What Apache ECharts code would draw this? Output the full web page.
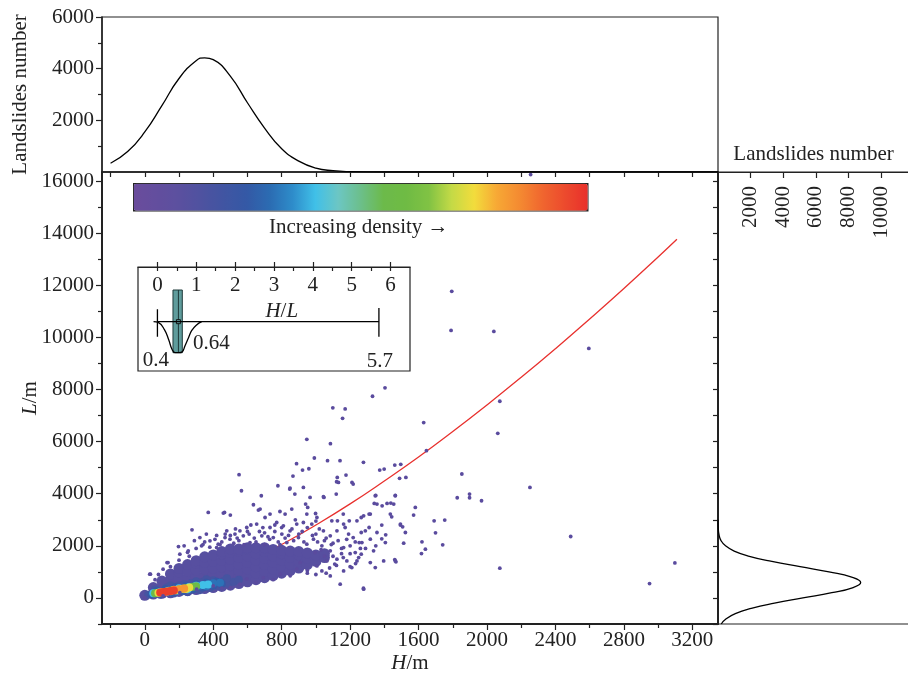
<!DOCTYPE html>
<html>
<head>
<meta charset="utf-8">
<script src="https://cdn.jsdelivr.net/npm/echarts@6/dist/echarts.min.js"></script>
<style>
html, body { margin: 0; padding: 0; background: #fff; }
#chart { width: 908px; height: 680px; }
</style>
</head>
<body>
<div id="chart"></div>
<script>
// H/m axis ticks
const xMajor = [0, 400, 800, 1200, 1600, 2000, 2400, 2800, 3200]
const xMinor = [-200, 200, 600, 1000, 1400, 1800, 2200, 2600, 3000]
const xTopTicks = [-200, 0, 200, 400, 600, 800, 1000, 1200, 1400, 1600, 1800, 2000, 2200, 2400, 2600, 2800, 3000, 3200]
// L/m axis ticks
const yMajor = [0, 2000, 4000, 6000, 8000, 10000, 12000, 14000, 16000]
const yMinor = [-1000, 1000, 3000, 5000, 7000, 9000, 11000, 13000, 15000]
const yRightTicks = [-1000, 0, 1000, 2000, 3000, 4000, 5000, 6000, 7000, 8000, 9000, 10000, 11000, 12000, 13000, 14000, 15000, 16000]
// top histogram axis
const topMajor = [2000, 4000, 6000]
const topMinor = [1000, 3000, 5000]
// side histogram axis
const sideTicks = [2000, 4000, 6000, 8000, 10000]
// inset H/L axis
const hlMajor = [0, 1, 2, 3, 4, 5, 6]
const hlMinor = [0.5, 1.5, 2.5, 3.5, 4.5, 5.5]

// distribution of H (top panel)
const topH = [-200, -100, 0, 100, 200, 300, 350, 400, 500, 600, 700, 800, 900, 1000, 1100, 1200, 1400, 3350]
const topCount = [340, 790, 1550, 2570, 3620, 4310, 4420, 4350, 3710, 2680, 1700, 900, 420, 150, 50, 15, 0, 0]

// distribution of L (side panel)
const sideL = [-1000, -800, -600, -400, -200, 0, 200, 400, 590, 800, 1000, 1200, 1400, 1600, 1800, 2000, 2200, 2400, 2700, 3000]
const sideCount = [200, 500, 1060, 2040, 3460, 5200, 6970, 8280, 8740, 8190, 6800, 5030, 3300, 1920, 990, 460, 185, 70, 12, 0]

// fitted curve
const fitH = [0, 100, 200, 400, 600, 800, 1000, 1200, 1400, 1600, 1800, 2000, 2200, 2400, 2600, 2800, 3000, 3110]
const fitL = [0, 110, 290, 770, 1370, 2050, 2800, 3610, 4490, 5410, 6390, 7410, 8470, 9570, 10710, 11880, 13090, 13770]

// solid part of the cloud: one column of L values per H
const fillH = [0, 50, 100, 150, 200, 250, 300, 350, 400, 450, 500, 550, 600, 650, 700, 750, 800, 850, 900, 950, 1000, 1050]
const fillL = [
  [100],
  [150, 400],
  [180, 420, 650],
  [200, 450, 700, 920],
  [250, 500, 750, 1000, 1130],
  [280, 530, 780, 1030, 1280],
  [320, 570, 820, 1070, 1320, 1430],
  [360, 610, 860, 1110, 1360, 1580],
  [400, 650, 900, 1150, 1400, 1650],
  [440, 690, 940, 1190, 1440, 1690, 1780],
  [490, 740, 990, 1240, 1490, 1740, 1880],
  [550, 800, 1050, 1300, 1550, 1800, 1880],
  [620, 870, 1120, 1370, 1620, 1870, 1930],
  [700, 950, 1200, 1450, 1700, 1930],
  [780, 1030, 1280, 1530, 1780, 1930],
  [860, 1110, 1360, 1610, 1860],
  [950, 1200, 1450, 1700, 1830],
  [1050, 1300, 1550, 1800],
  [1150, 1400, 1650, 1780],
  [1280, 1530, 1730],
  [1400, 1650],
  [1550, 1700]
]

// dense core [H, L, density]
const corePts = [
  [20, 120, 0.18], [60, 320, 0.18], [90, 120, 0.18], [130, 400, 0.18], [170, 170, 0.18], [200, 480, 0.18],
  [250, 230, 0.18], [270, 560, 0.18], [320, 300, 0.18], [340, 620, 0.18], [380, 380, 0.18], [400, 680, 0.18],
  [430, 450, 0.18], [460, 650, 0.18], [490, 540, 0.18], [520, 620, 0.18], [300, 640, 0.18], [230, 540, 0.18],
  [550, 700, 0.18], [480, 760, 0.18], [360, 720, 0.18], [150, 480, 0.18],
  [40, 130, 0.25], [70, 280, 0.25], [100, 150, 0.25], [120, 330, 0.25], [160, 200, 0.25], [180, 420, 0.25],
  [220, 260, 0.25], [240, 470, 0.25], [280, 320, 0.25], [300, 540, 0.25], [340, 400, 0.25], [360, 580, 0.25],
  [400, 470, 0.25], [420, 620, 0.25], [450, 540, 0.25],
  [380, 520, 0.31], [320, 470, 0.31], [440, 580, 0.31], [360, 450, 0.31], [400, 560, 0.31],
  [50, 180, 0.4], [90, 230, 0.4], [140, 280, 0.4], [200, 370, 0.4], [260, 420, 0.4], [300, 470, 0.4],
  [340, 500, 0.4], [250, 330, 0.4], [190, 290, 0.4], [370, 520, 0.4],
  [60, 180, 0.57], [100, 220, 0.57], [200, 320, 0.57], [240, 380, 0.57], [280, 430, 0.57], [160, 300, 0.57], [300, 450, 0.57],
  [80, 200, 0.74], [130, 250, 0.74], [180, 300, 0.74], [220, 350, 0.74], [260, 400, 0.74], [240, 340, 0.74],
  [100, 220, 0.83], [150, 260, 0.83], [200, 330, 0.83], [230, 360, 0.83], [170, 310, 0.83],
  [90, 210, 0.97], [110, 230, 0.97], [130, 250, 0.97], [150, 270, 0.97], [170, 290, 0.97]
]

// scattered points [H, L]
const sparsePts = [
  [2255, 16250], [1794, 11770], [1790, 10270], [2040, 10230], [2595, 9577], [1404, 8065], [1331, 7742],
  [1099, 7296], [1171, 7257], [1156, 6896], [1630, 6730], [2075, 7550], [2063, 6320], [947, 6090],
  [1085, 5923], [1646, 5654], [1068, 5269], [1141, 5269], [1278, 5205], [887, 5154], [991, 5372],
  [922, 4910], [959, 4960], [866, 4680], [1373, 4910], [1399, 4948], [1461, 5100], [1496, 5128],
  [1489, 4590], [1526, 4628], [551, 4730], [565, 4115], [778, 4307], [847, 4180], [927, 4243],
  [877, 3988], [1121, 4461], [1218, 4372], [1125, 4628], [1176, 4718], [681, 3923], [1047, 3857],
  [1350, 3934], [1464, 3934], [1119, 3988], [1853, 4757], [2251, 4243], [1826, 3846], [1898, 3988],
  [1898, 3846], [1968, 3730], [1581, 3473], [1571, 3180], [1494, 2796], [1507, 2731], [1523, 2512],
  [1691, 2961], [1753, 2988], [1699, 2500], [1513, 2104], [1620, 2154], [1640, 1873], [1617, 1704],
  [1741, 2038], [2075, 1142], [2489, 2358], [3098, 1346], [2950, 550],
  [371, 3281], [276, 2615], [466, 3281], [500, 3180], [635, 3577], [674, 3411], [732, 3219], [790, 3319],
  [859, 3411], [940, 3604], [952, 3473], [998, 3242], [1341, 3627], [1387, 3538], [1438, 3642],
  [1461, 1473], [1468, 1385], [1385, 2796], [1443, 3115], [1385, 2269], [1408, 2423], [1318, 1358],
  [1278, 373], [1142, 527], [1232, 1319], [1265, 1681], [1230, 1742], [1253, 2127], [1218, 2319],
  [1265, 2512], [1311, 2704], [1357, 2512], [1171, 2704], [1195, 2961], [1126, 2961], [1160, 3219],
  [1265, 3088], [1311, 3219], [197, 1973], [33, 911], [130, 1358],
  [849, 4217], [966, 3857], [1044, 3884], [459, 3256], [664, 3373], [820, 3219], [947, 3219],
  [322, 2319], [429, 2065], [498, 2257], [556, 2577], [596, 2704], [654, 2834], [703, 3088], [732, 2704],
  [771, 2896], [810, 2769], [849, 2577], [888, 2834], [927, 2896], [976, 2834], [1006, 3088], [1044, 2577],
  [1084, 2385], [1123, 2577], [1093, 2961], [1162, 2834], [1191, 2450], [1240, 2961], [1279, 3154],
  [1318, 3219], [1289, 2577], [1318, 2257], [1269, 2127], [1162, 1934], [1084, 1808], [1123, 1488],
  [1064, 1423], [1181, 1423], [1240, 1423], [1210, 1166], [1162, 1038], [1084, 846], [1279, 335],
  [1035, 1038], [1006, 1231], [1347, 1166], [1396, 1423], [1337, 1808], [1406, 2127], [1464, 1423],
  [1494, 2834], [1435, 3219], [1357, 3604], [1416, 3627], [1455, 3604], [1464, 3923], [1347, 3923],
  [1132, 4435], [1211, 4435],
  [29, 911], [107, 1104], [136, 1358], [205, 1681], [254, 1808], [332, 2000], [420, 1934], [381, 2192],
  [469, 2319], [527, 2450], [479, 2577], [576, 2385], [615, 2127], [684, 2385], [751, 2319], [801, 2450],
  [830, 2127], [898, 2319], [947, 2065], [986, 2257], [1035, 2000], [996, 1742], [908, 1358],
  [556, 527], [693, 781], [791, 911], [888, 1104], [596, 719], [400, 462], [303, 335], [205, 204],
  [107, 77], [0, 12],
  [1050, 1600], [1100, 2100], [1150, 1700], [1200, 2000], [1050, 2200], [1120, 1250], [1000, 2450],
  [1180, 2250], [1080, 1150], [1030, 1850], [350, 2150], [420, 2400], [550, 2200], [640, 2300],
  [700, 2500], [780, 2150], [860, 2650], [920, 2550], [600, 2550], [500, 2400], [450, 2150], [730, 2250],
  [820, 2300], [260, 1600], [200, 1450], [150, 1200], [80, 900], [60, 700],
  [300, 1900], [340, 2050], [380, 1950], [410, 2250], [440, 2050], [470, 2450], [520, 2100], [540, 2300],
  [580, 2050], [610, 2450], [650, 2150], [670, 2550], [700, 2050], [720, 2350], [760, 2550], [790, 2050],
  [800, 2700], [840, 2400], [870, 2200], [900, 2450], [930, 2150], [950, 2700], [980, 2400], [1010, 2150],
  [1020, 2650], [1060, 2300], [1090, 2050], [1130, 2200], [1150, 1900], [1200, 1700], [1230, 2150],
  [1260, 1900], [250, 1750], [230, 2000], [290, 2200], [360, 2450], [530, 2650], [620, 2800], [690, 2700],
  [760, 2800], [880, 3000], [1000, 2950], [1100, 1600], [1160, 1550], [1110, 1300], [1200, 1200],
  [1250, 1550], [1290, 1900], [1350, 2000], [1000, 900], [950, 1050], [1060, 950],
  [650, 600], [750, 700], [850, 850], [950, 950], [500, 400], [450, 380]
]

// inset: H/L statistics [min, q1, median, q3, max] and mean
const hlStats = [0, 0.4, 0.54, 0.64, 5.7]
const hlMean = 0.54
const violinX = [-0.1, 0.03, 0.18, 0.29, 0.38, 0.46, 0.55, 0.64, 0.71, 0.8, 0.88, 1.0, 1.14]
const violinD = [0, -1, -8, -18, -28, -31, -31, -30, -24, -16, -9, -3.5, 0]

const densityColors = ['#6a4c9c', '#634e9e', '#5b509f', '#4e52a0', '#4055a2', '#3459a6', '#2b6cb2',
  '#2e8cca', '#40c0e8', '#6cc6c4', '#6cbf8a', '#6cba4a', '#6fbb44', '#80c244', '#c4da46', '#f2dc3c',
  '#f7a835', '#f48a31', '#f0662f', '#ec4a2d', '#e9302b']

const font = 'Liberation Serif'
const ink = '#222'
const fs = 21

const pair = (a, b) => a.map((v, i) => [v, b[i]])
const fillPts = fillH.flatMap((h, i) => fillL[i].map(l => [h, l]))

const lbl = (vals, extra) => Object.assign({ customValues: vals, color: ink, fontSize: fs, fontFamily: font,
  formatter: v => String(v) }, extra || {})
const tick = (vals, len, inside) => ({ customValues: vals, length: len, inside: !!inside, lineStyle: { color: ink, width: 1.2 } })
const line = (w) => ({ show: true, onZero: false, lineStyle: { color: ink, width: w } })
const noLine = { show: false, onZero: false }
const nameStyle = { color: ink, fontSize: fs, fontFamily: font, rich: { i: { fontStyle: 'italic', fontSize: fs, fontFamily: font, color: ink } } }
const gridBox = { show: true, borderColor: ink, borderWidth: 1.2, outerBoundsMode: 'none', containLabel: false }

let myChart = echarts.init(document.getElementById('chart'), null, { renderer: 'canvas' })

const option = {
  animation: false,
  backgroundColor: '#fff',
  textStyle: { fontFamily: font, color: ink },
  grid: [
    Object.assign({ left: 102, top: 172, width: 616, height: 452 }, gridBox),
    Object.assign({ left: 102, top: 17, width: 616, height: 155 }, gridBox),
    Object.assign({ left: 718, top: 172, width: 191, height: 452 }, gridBox),
    Object.assign({ left: 138, top: 267, width: 272, height: 104, backgroundColor: '#fff' }, gridBox)
  ],
  xAxis: [
    { gridIndex: 0, type: 'value', position: 'bottom', min: -250, max: 3350, splitLine: { show: false },
      axisLine: line(2), axisTick: tick(xMajor, 6), axisLabel: lbl(xMajor, { margin: 6 }),
      name: '{i|H}/m', nameLocation: 'middle', nameGap: 29, nameMoveOverlap: false, nameTextStyle: nameStyle },
    { gridIndex: 0, type: 'value', position: 'bottom', min: -250, max: 3350, splitLine: { show: false },
      axisLine: noLine, axisTick: tick(xMinor, 4), axisLabel: { show: false } },
    { gridIndex: 1, type: 'value', position: 'bottom', min: -250, max: 3350, splitLine: { show: false },
      axisLine: line(1.5), axisTick: tick(xTopTicks, 5), axisLabel: { show: false } },
    { gridIndex: 2, type: 'value', position: 'top', min: 0, max: 11700, splitLine: { show: false },
      axisLine: line(1.2), axisTick: tick(sideTicks, 6, true),
      axisLabel: lbl(sideTicks, { inside: true, rotate: -90, margin: 14 }),
      name: 'Landslides number', nameLocation: 'middle', nameGap: 7, nameMoveOverlap: false, nameTextStyle: nameStyle },
    { gridIndex: 3, type: 'value', position: 'top', min: -0.5, max: 6.5, splitLine: { show: false },
      axisLine: line(1.2), axisTick: tick(hlMajor, 5), axisLabel: lbl(hlMajor, { inside: true, margin: 8 }) },
    { gridIndex: 3, type: 'value', position: 'top', min: -0.5, max: 6.5, splitLine: { show: false },
      axisLine: noLine, axisTick: tick(hlMinor.concat(hlMajor), 4, true), axisLabel: { show: false } }
  ],
  yAxis: [
    { gridIndex: 0, type: 'value', position: 'left', min: -1000, max: 16350, splitLine: { show: false },
      axisLine: line(2), axisTick: tick(yMajor, 6), axisLabel: lbl(yMajor, { margin: 8 }),
      name: '{i|L}/m', nameLocation: 'middle', nameGap: 61, nameMoveOverlap: false, nameTextStyle: nameStyle },
    { gridIndex: 0, type: 'value', position: 'left', min: -1000, max: 16350, splitLine: { show: false },
      axisLine: noLine, axisTick: tick(yMinor, 4), axisLabel: { show: false } },
    { gridIndex: 1, type: 'value', position: 'left', min: 0, max: 6000, splitLine: { show: false },
      axisLine: line(1.5), axisTick: tick(topMajor, 6), axisLabel: lbl(topMajor, { margin: 8 }),
      name: 'Landslides number', nameLocation: 'middle', nameGap: 71, nameMoveOverlap: false, nameTextStyle: nameStyle },
    { gridIndex: 1, type: 'value', position: 'left', min: 0, max: 6000, splitLine: { show: false },
      axisLine: noLine, axisTick: tick(topMinor, 4), axisLabel: { show: false } },
    { gridIndex: 2, type: 'value', position: 'left', min: -1000, max: 16350, splitLine: { show: false },
      axisLine: line(2), axisTick: tick(yRightTicks, 5), axisLabel: { show: false } },
    { gridIndex: 3, type: 'value', min: -49.3, max: 54.7, show: false }
  ],
  visualMap: {
    type: 'continuous', orient: 'horizontal', left: 133, top: 183, itemWidth: 27, itemHeight: 454,
    min: 0, max: 1, dimension: 2, seriesIndex: 3, calculable: false, hoverLink: false,
    showLabel: false, text: null, padding: 0, borderColor: ink, borderWidth: 1.5,
    inRange: { color: densityColors }
  },
  graphic: [
    { type: 'text', left: 269, top: 217, style: { text: 'Increasing density \u2192', font: fs + 'px "' + font + '"', fill: ink } }
  ],
  series: [
    { type: 'line', xAxisIndex: 2, yAxisIndex: 2, data: pair(topH, topCount), smooth: true,
      showSymbol: false, lineStyle: { color: '#000', width: 1.3 } },
    { type: 'line', xAxisIndex: 3, yAxisIndex: 4, data: pair(sideCount, sideL), smooth: true,
      showSymbol: false, lineStyle: { color: '#000', width: 1.3 } },
    { type: 'scatter', xAxisIndex: 0, yAxisIndex: 0, data: fillPts, symbolSize: 11,
      itemStyle: { color: '#574fa0', opacity: 1 } },
    { type: 'scatter', xAxisIndex: 0, yAxisIndex: 0, data: corePts, symbolSize: 8, itemStyle: { opacity: 1 } },
    { type: 'scatter', xAxisIndex: 0, yAxisIndex: 0, data: sparsePts, symbolSize: 3.8,
      itemStyle: { color: '#5a4b9e', opacity: 1 } },
    { type: 'line', xAxisIndex: 0, yAxisIndex: 0, data: pair(fitH, fitL), smooth: true, z: 1,
      showSymbol: false, lineStyle: { color: '#e8312e', width: 1.3 } },
    { type: 'line', xAxisIndex: 4, yAxisIndex: 5, data: pair(violinX, violinD), smooth: true,
      showSymbol: false, lineStyle: { color: '#000', width: 1.3 } },
    { type: 'line', xAxisIndex: 4, yAxisIndex: 5, data: [[hlStats[0], 0], [hlStats[4], 0]],
      showSymbol: false, lineStyle: { color: '#000', width: 1.3 } },
    { type: 'line', xAxisIndex: 4, yAxisIndex: 5, data: [[hlStats[0], 12.5], [hlStats[0], -15]],
      showSymbol: false, lineStyle: { color: '#000', width: 1.3 } },
    { type: 'line', xAxisIndex: 4, yAxisIndex: 5, data: [[hlStats[4], 13.7], [hlStats[4], -15]],
      showSymbol: false, lineStyle: { color: '#000', width: 1.3 } },
    { type: 'custom', xAxisIndex: 4, yAxisIndex: 5, data: [[hlStats[1], hlStats[3], hlStats[2]]],
      renderItem: function (params, api) {
        const p0 = api.coord([api.value(0), 31.7])
        const p1 = api.coord([api.value(1), -31])
        const m0 = api.coord([api.value(2), 31.7])
        const m1 = api.coord([api.value(2), -31])
        return { type: 'group', children: [
          { type: 'rect', shape: { x: p0[0], y: p0[1], width: p1[0] - p0[0], height: p1[1] - p0[1] },
            style: { fill: '#5f9c9c', stroke: '#1e3a3a', lineWidth: 1 } },
          { type: 'line', shape: { x1: m0[0], y1: m0[1], x2: m1[0], y2: m1[1] },
            style: { stroke: '#1e3a3a', lineWidth: 1 } }
        ] }
      } },
    { type: 'scatter', xAxisIndex: 4, yAxisIndex: 5, data: [[hlMean, 0]], symbol: 'rect', symbolSize: 4,
      itemStyle: { color: '#5f9c9c', borderColor: '#111', borderWidth: 1, opacity: 1 } },
    { type: 'scatter', xAxisIndex: 4, yAxisIndex: 5, symbolSize: 1, itemStyle: { color: 'rgba(0,0,0,0)', opacity: 1 },
      label: { show: true, position: 'inside', formatter: '{b}', color: ink, fontSize: fs, fontFamily: font,
        rich: { i: { fontStyle: 'italic', fontSize: fs, fontFamily: font, color: ink } } },
      data: [
        { value: [hlStats[1], -31], name: String(hlStats[1]), label: { offset: [-17, 8] } },
        { value: [hlStats[3], -31], name: String(hlStats[3]), label: { offset: [29, -9] } },
        { value: [hlStats[4], -15], name: String(hlStats[4]), label: { offset: [1, 25] } },
        { value: [3.2, 10], name: '{i|H}/{i|L}' }
      ] }
  ]
}

myChart.setOption(option)
</script>
</body>
</html>
